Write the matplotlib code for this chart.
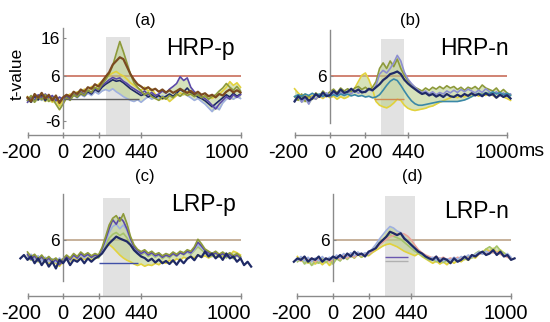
import numpy as np
import matplotlib
matplotlib.use("Agg")
import matplotlib.pyplot as plt
from matplotlib.transforms import ScaledTranslation

plt.rcParams['font.family'] = ['Liberation Sans', 'DejaVu Sans']

# ---------------- data ----------------
# sampling grids (ms)
T = list(range(-200, 1001, 20))          # 61 samples
T_B = list(range(-200, 1021, 20))        # 62 samples
T_C_NAVY = list(range(-240, 1061, 20))   # 66 samples
T_D_NAVY = list(range(-220, 1021, 20))   # 63 samples

X_TICKS = [-200, 0, 200, 440, 1000]
X_TICK_LABELS = ["-200", "0", "200", "440", "1000"]
THRESHOLD = 6

# (a) HRP-p
A_BROWN = [0.3, -0.8, 1.2, 0.2, 1.5, 0.0, 1.0, -0.5, 0.8, -1.2,
           0.3, 1.0, 0.5, 1.8, 1.2, 2.4, 1.8, 3.0, 2.6, 3.8,
           3.2, 4.5, 5.8, 7.0, 9.0, 10.0, 11.0, 10.5, 8.5, 6.5,
           5.0, 3.8, 3.2, 2.5, 3.0, 2.2, 2.6, 1.8, 2.4, 1.6,
           2.2, 1.5, 2.0, 2.6, 2.0, 1.5, 2.0, 1.2, 1.8, 1.0,
           1.4, 0.6, 1.0, 0.3, 1.2, 0.8, 1.8, 2.4, 1.6, 2.2,
           1.6]
A_OLIVE = [-0.5, 0.8, -1.0, 0.5, -0.3, 1.0, -0.8, 0.2, -1.5, -3.0,
           -1.5, 0.2, -0.5, 1.0, 0.4, 1.5, 0.8, 2.2, 1.6, 3.0,
           2.4, 3.8, 5.0, 6.5, 8.8, 12.0, 15.2, 12.5, 9.5, 6.5,
           4.2, 3.0, 2.0, 1.0, 1.6, 0.5, 0.0, -0.5, 0.5, -0.2,
           0.8, 0.2, 1.2, 0.6, 1.5, 0.8, 1.2, 0.5, 1.0, 0.2,
           0.8, -0.2, 0.5, 1.0, 2.0, 2.8, 4.0, 3.0, 2.2, 3.2,
           2.0]
A_PURPLE = [-1.0, 0.5, -0.5, 1.0, 0.0, 1.2, 0.2, 0.8, -0.6, 0.4,
            -0.2, 0.8, 0.0, 1.2, 0.6, 1.8, 1.0, 2.2, 1.5, 2.8,
            2.2, 3.5, 4.2, 5.0, 5.6, 5.2, 5.5, 4.6, 4.0, 3.2,
            2.6, 2.0, 1.4, 2.0, 1.0, 1.6, 0.8, 1.2, 2.0, 1.4,
            2.5, 3.2, 4.0, 5.8, 4.8, 5.5, 3.0, 1.8, 1.0, 0.5,
            0.0, -0.8, -1.8, -2.8, -1.5, -0.5, 0.5, -0.2, 1.0, 0.3,
            1.0]
A_NAVY = [0.0, -1.0, 0.6, -0.4, 1.0, -0.6, 0.6, -0.2, 0.4, -0.8,
          0.0, 0.6, -0.2, 1.0, 0.4, 1.4, 0.8, 1.8, 1.2, 2.4,
          1.8, 3.0, 3.8, 4.4, 5.0, 4.6, 4.8, 4.2, 3.4, 2.6,
          2.0, 1.4, 0.8, 1.2, 0.4, 1.0, 0.2, 0.8, 0.0, 0.6,
          1.2, 0.6, 1.4, 2.4, 1.8, 2.8, 1.6, 1.0, 0.4, 0.0,
          -0.6, -1.4, -2.2, -1.4, -0.6, 0.2, 1.0, 0.4, 1.4, 0.6,
          1.2]
A_YELLOW = [0.5, -0.5, 1.0, -0.3, 0.8, -0.8, 0.3, -1.0, -0.2, -2.0,
            -0.5, 0.5, 1.2, 0.6, 1.8, 1.0, 2.5, 1.8, 3.2, 2.5,
            3.8, 4.6, 5.5, 6.2, 6.8, 7.2, 6.5, 6.0, 5.2, 4.2,
            3.5, 2.8, 2.2, 3.0, 2.0, 2.5, 1.2, 0.5, -0.2, 0.4,
            -0.8, 0.0, 0.8, 1.5, 1.0, 1.8, 1.2, 0.6, 1.4, 0.8,
            0.2, 0.8, 0.0, 0.6, 1.2, 2.0, 3.0, 4.5, 3.5, 4.2,
            3.0]
A_LBLUE = [-0.5, 0.6, -0.8, 0.3, -0.5, 0.5, -0.3, 0.4, -0.6, 0.2,
           -0.4, 0.4, -0.2, 0.8, 0.2, 1.0, 0.5, 1.4, 0.8, 1.8,
           1.2, 2.0, 2.4, 2.0, 2.6, 1.8, 1.2, 0.5, 0.0, -0.5,
           -0.8, -0.3, -1.0, -0.2, 0.5, -0.2, 0.6, 0.0, 0.8, 0.2,
           1.0, 0.4, 1.2, 0.6, 1.4, 0.8, 0.2, -0.5, 0.0, -0.8,
           -1.5, -2.5, -3.5, -2.0, -3.0, -1.2, -0.2, 0.6, -0.2, 0.5,
           0.0]

# (b) HRP-n
B_NAVY = [-0.8, 0.6, -0.2, 0.5, -0.6, 0.0, 1.2, 0.4, 1.6, 0.6,
          0.9, 2.0, 1.2, 2.4, 1.5, 1.8, 2.6, 1.8, 2.4, 1.6,
          1.8, 2.6, 2.2, 3.0, 3.8, 4.9, 5.6, 6.5, 6.8, 7.2,
          6.5, 5.0, 4.0, 3.2, 2.5, 1.8, 1.2, 1.5, 0.8, 1.2,
          0.5, 1.0, 0.4, 1.2, 0.6, 0.4, 1.0, 0.5, 1.2, 0.7,
          1.4, 0.8, 1.2, 0.6, 1.4, 0.8, 1.2, 0.2, 1.0, 0.4,
          0.9, 0.0]
B_OLIVE = [0.5, -0.5, 1.2, -0.8, 0.8, -0.2, 1.5, 0.6, 2.0, 1.0,
           1.8, 2.5, 1.5, 2.8, 2.0, 2.6, 1.8, 2.8, 3.2, 2.4,
           3.0, 2.2, 3.0, 4.5, 8.0, 9.5, 8.0, 10.0, 8.5, 10.5,
           8.0, 6.2, 4.8, 3.8, 3.0, 2.5, 2.0, 2.8, 2.2, 3.0,
           2.5, 3.2, 2.6, 3.4, 2.8, 3.2, 2.4, 3.0, 2.2, 3.0,
           2.6, 3.2, 2.4, 3.6, 2.8, 2.4, 2.0, 2.8, 1.6, 2.4,
           1.5, 1.0]
B_LAV = [-0.5, 0.8, -1.0, 0.2, -1.5, 0.5, -0.2, 1.0, 0.4, 1.5,
         0.6, 1.4, 0.8, 1.6, 1.0, 2.0, 1.2, 2.2, 1.4, 2.0,
         1.6, 2.4, 2.0, 3.5, 6.5, 7.5, 6.8, 8.0, 9.5, 11.5,
         10.0, 7.0, 5.2, 4.0, 3.0, 2.2, 1.5, 2.0, 1.2, 1.8,
         1.0, 1.6, 1.2, 2.0, 1.5, 2.2, 1.6, 2.4, 1.8, 2.5,
         2.0, 1.5, 2.2, 1.6, 2.6, 1.8, 1.0, 1.8, 0.8, 1.5,
         0.6, 1.2]
B_YELLOW = [2.6, 1.5, 0.5, 1.2, 0.0, 0.8, -0.2, 0.6, 0.0, 0.8,
            0.2, 0.6, -0.2, 0.5, 0.0, 0.4, 1.5, 2.8, 4.5, 6.2,
            6.8, 5.0, 2.5, -0.8, -1.8, -2.2, -2.5, -2.0, -1.2, -0.2,
            -0.5, -1.8, -2.6, -3.0, -3.2, -3.0, -2.8, -2.6, -2.2, -2.0,
            -1.5, -1.0, -0.6, -0.2, 0.2, 0.6, 0.2, 0.8, 0.4, 1.0,
            0.5, 1.2, 0.6, 1.4, 0.8, 1.6, 0.8, 0.2, 1.0, 0.4,
            0.0, -0.5]
B_TEAL = [0.5, 1.0, 0.6, 1.2, 0.8, 1.4, 0.8, 1.2, 0.6, 1.0,
          0.5, 1.0, 0.6, 1.2, 0.8, 1.2, 0.7, 1.0, 0.6, 0.8,
          0.4, 0.6, 0.2, 0.4, 1.0, 2.2, 3.5, 4.6, 5.2, 4.8,
          3.5, 2.0, 0.6, -0.6, -1.4, -1.8, -1.8, -1.6, -1.4, -1.2,
          -1.0, -0.8, -0.8, -0.8, -0.8, -0.8, -0.8, -0.6, -0.4, 0.0,
          0.5, 1.0, 1.4, 1.0, 1.6, 1.2, 1.8, 1.2, 1.6, 1.0,
          1.4, 0.8]

# (c) LRP-p
C_NAVY = [1.1, 2.0, 0.7, 1.6, -0.2, 1.1, -0.7, 0.7, -1.1, 0.2, -1.6, 0.7,
          -0.2, 1.1, -0.7, 0.7, 0.2, 1.1, -0.2, 1.1, 0.2, 1.1,
          1.6, 2.4, 3.8, 5.1, 6.0, 6.9, 6.4, 6.0, 5.6, 4.7,
          3.3, 2.4, 1.6, 1.2, 0.4, 1.0, 0.0, 0.8, -0.2, 0.4,
          -0.4, 0.6, -0.6, 0.8, -0.2, 1.0, 1.6, 0.6, 2.0, 1.4,
          2.9, 1.6, 2.4, 1.1, 2.0, 0.7, 2.4, 1.1, 1.6, 0.2,
          1.1, -0.7, 0.2, -1.1]
C_OLIVE = [2.8, 1.5, 2.2, 1.0, 2.0, 0.8, 1.6, 0.6, 1.2, 0.2,
           1.0, 2.0, 1.2, 2.4, 1.6, 2.8, 2.0, 2.6, 1.8, 2.4,
           2.0, 4.0, 6.9, 10.0, 11.8, 12.5, 11.0, 13.0, 10.4, 7.0,
           4.7, 3.5, 2.9, 3.4, 2.5, 3.0, 2.2, 2.6, 1.8, 2.4,
           2.0, 2.8, 2.2, 3.0, 2.6, 3.4, 3.0, 4.2, 6.2, 5.0,
           3.6, 3.0, 2.4, 3.0, 2.2, 2.8, 2.0, 2.6, 1.8, 2.4,
           1.6]
C_PURPLE = [2.2, 0.8, 1.8, 0.4, 1.6, 0.2, 1.2, 0.0, 0.8, -0.6,
            0.6, 1.6, 0.8, 2.0, 1.2, 2.4, 1.6, 2.2, 1.4, 2.0,
            1.8, 3.6, 6.2, 9.0, 11.4, 10.2, 12.0, 11.0, 9.0, 6.4,
            4.2, 3.2, 2.4, 3.0, 2.0, 2.6, 1.8, 2.2, 1.4, 2.0,
            1.6, 2.4, 1.8, 2.6, 2.2, 3.0, 2.6, 3.8, 5.4, 4.4,
            3.2, 2.6, 2.0, 2.6, 1.8, 2.4, 1.6, 2.2, 1.4, 2.0,
            1.2]
C_LBLUE = [1.2, 2.2, 0.8, 1.8, 0.4, 1.4, 0.2, 1.0, 0.0, 1.2,
           0.4, 1.4, 0.6, 1.8, 1.0, 2.0, 1.2, 2.2, 1.4, 2.0,
           1.6, 3.2, 5.5, 8.0, 9.6, 10.2, 9.0, 10.0, 8.6, 6.0,
           4.0, 3.0, 2.4, 2.8, 2.0, 2.6, 1.6, 2.2, 1.4, 2.0,
           1.6, 2.4, 1.8, 2.6, 2.2, 2.8, 2.4, 3.4, 4.8, 4.0,
           3.0, 2.4, 2.0, 2.6, 1.8, 2.4, 1.6, 2.2, 1.4, 2.0,
           1.2]
C_GREEN = [1.8, 0.6, 1.6, 0.2, 1.2, 0.0, 1.0, -0.2, 0.6, -0.4,
           0.6, 1.6, 0.8, 2.0, 1.2, 2.2, 1.4, 2.0, 1.2, 1.8,
           1.2, 2.6, 4.5, 6.5, 7.5, 8.0, 7.2, 7.8, 6.6, 4.8,
           3.4, 2.6, 2.0, 2.6, 1.6, 2.2, 1.4, 2.0, 1.0, 1.8,
           1.2, 2.2, 1.6, 2.6, 2.0, 2.8, 2.2, 3.2, 4.2, 3.4,
           2.6, 2.0, 1.6, 2.4, 1.4, 2.2, 1.2, 2.0, 1.0, 1.8,
           1.0]
C_YELLOW = [0.8, 2.0, 1.0, 0.2, 1.2, 0.4, -0.4, 0.6, -0.2, -1.0,
            0.2, 1.0, 0.4, 1.2, 0.6, 1.4, 0.8, 1.2, 0.6, 1.0,
            1.6, 2.8, 4.2, 4.8, 4.0, 3.0, 2.0, 1.2, 0.6, 0.2,
            -0.4, -0.8, -0.4, -1.0, -0.6, -0.8, -0.2, -0.6, 0.2, -0.2,
            0.6, 0.2, 1.0, 0.6, 1.4, 1.0, 1.6, 1.2, 2.0, 1.4,
            1.8, 1.2, 1.8, 1.4, 2.2, 1.6, 2.4, 1.8, 3.0, 2.6,
            2.0]

# (d) LRP-n
D_NAVY = [0.2, 1.1, 0.7, 1.6, 0.2, 1.1, 0.7, 1.6, 0.2, 1.1, 0.7,
          1.6, 1.1, 2.0, 1.1, 2.4, 1.6, 2.9, 2.0, 2.4, 1.6,
          2.9, 3.3, 3.8, 5.1, 6.0, 6.9, 8.2, 7.8, 7.3, 7.8,
          6.4, 5.6, 4.7, 3.8, 2.9, 2.4, 1.6, 1.1, 0.7, 1.6,
          0.2, 1.1, 0.7, -0.2, 1.1, 0.2, 0.7, 1.6, 0.7, 2.0,
          1.6, 2.4, 2.9, 2.0, 2.4, 3.3, 2.0, 2.9, 1.6, 2.0,
          0.7, 1.1]
D_LBLUE = [0.6, 1.6, 0.4, 1.4, 0.2, 1.2, 0.4, 1.6, 0.6, 1.4,
           0.8, 2.0, 1.2, 2.4, 1.6, 2.6, 1.8, 2.8, 2.0, 2.6,
           2.4, 3.6, 4.8, 6.2, 7.4, 8.6, 9.6, 9.2, 8.4, 8.0,
           6.8, 5.6, 4.4, 3.6, 2.8, 2.2, 1.6, 1.0, 1.4, 0.6,
           1.2, 0.4, 1.0, 0.6, 1.4, 0.8, 1.6, 1.2, 2.0, 1.4,
           2.2, 2.8, 2.2, 3.0, 2.4, 3.2, 2.2, 2.8, 1.8, 2.4,
           1.4]
D_YELLOW = [1.6, 0.4, 1.2, -0.2, 0.8, -0.4, 0.6, -0.6, 0.4, -0.8,
            0.6, 1.4, 0.6, 1.8, 1.0, 2.0, 1.2, 2.2, 1.4, 2.0,
            1.8, 2.6, 3.2, 3.8, 4.4, 4.8, 5.0, 4.6, 4.2, 3.6,
            3.0, 2.6, 2.2, 1.8, 2.4, 1.6, 1.0, 0.4, -0.2, 0.4,
            -0.4, 0.2, -0.6, 0.4, -0.2, 0.6, 0.2, 1.0, 0.6, 1.6,
            1.2, 2.2, 2.8, 3.6, 3.0, 3.8, 2.6, 3.4, 2.4, 1.6,
            0.8]
D_GREEN = [0.2, 1.2, -0.4, 0.8, -0.8, 0.4, -0.2, 1.0, 0.0, 0.8,
           -0.4, 1.0, 0.4, 1.6, 0.8, 1.8, 1.2, 2.2, 1.4, 2.2,
           2.0, 3.0, 4.0, 5.2, 6.0, 6.8, 7.4, 7.0, 6.6, 6.2,
           5.4, 4.6, 3.8, 3.0, 2.4, 1.8, 1.2, 0.6, 1.0, 0.2,
           0.8, 0.0, 0.6, 0.2, 1.0, 0.4, 1.2, 0.8, 1.8, 1.2,
           2.4, 3.0, 2.4, 3.6, 4.2, 3.4, 4.4, 3.2, 2.6, 2.0,
           1.2]
D_PINK = [1.0, 0.4, 1.4, 0.6, 1.2, 0.2, 1.0, 0.4, 1.2, 0.2,
          1.0, 1.6, 0.8, 1.8, 1.2, 2.2, 1.4, 2.4, 1.8, 2.4,
          2.2, 3.0, 3.8, 4.6, 5.4, 6.2, 6.8, 7.2, 7.6, 7.8,
          7.6, 7.0, 6.0, 4.6, 3.4, 2.6, 2.0, 1.6, 1.2, 1.6,
          1.0, 1.4, 0.8, 1.2, 0.8, 1.4, 1.0, 1.6, 1.2, 2.0,
          1.6, 2.2, 2.6, 2.2, 3.0, 2.6, 2.8, 2.2, 1.8, 1.4,
          1.0]

# analysis windows (ms) and short reference segments (value, start, end)
WINDOWS = {"a": (240, 380), "b": (288, 418), "c": (228, 378), "d": (292, 460)}
SEGMENTS = {"a": [(0.0, 0, 430, "#606060")],
            "b": [(0.0, 250, 420, "#d08a50")],
            "c": [(0.0, 200, 420, "#4050a8")],
            "d": [(1.5, 290, 420, "#6a58b0"), (0.5, 290, 420, "#b0b0b0")]}

# ---------------- styling ----------------
C = {"brown": "#7a4a20", "olive": "#8d9a3a", "purple": "#5a48a8",
     "yellow": "#e2d23c", "lblue": "#9fb0e0", "navy": "#1f2a66",
     "teal": "#3a88a8", "lav": "#8d8fd0", "green": "#a6c46a", "pink": "#eaa39a"}

W, H = 550, 322
fig = plt.figure(figsize=(W / 100, H / 100), dpi=100)


def fx(p):
    return p / W


def fy(p):
    return 1 - p / H


PANELS = [
    dict(key="a", x0=63, k=0.1775, y0=98.5, spine=135, top=20, lb=(18.8, -7.9),
         yt=[16, 6, -6], gray_top=16.3, thr="#c4604c", off1000=-14,
         series=[(T, A_LBLUE, "lblue"), (T, A_YELLOW, "yellow"),
                 (T, A_NAVY, "navy"), (T, A_PURPLE, "purple"), (T, A_OLIVE, "olive")],
         main=(T, A_BROWN, "brown"),
         title="(a)", tpos=(145, 20), name="HRP-p", npos=(200, 55)),
    dict(key="b", x0=330, k=0.177, y0=98.5, spine=135, top=20, lb=(18.3, -6.5),
         yt=[6], gray_top=16.0, thr="#c4604c", off1000=-10,
         series=[(T_B, B_YELLOW, "yellow"), (T_B, B_OLIVE, "olive"),
                 (T_B, B_LAV, "lav"), (T_B, B_TEAL, "teal")],
         main=(T_B, B_NAVY, "navy"),
         title="(b)", tpos=(410, 20), name="HRP-n", npos=(474, 55)),
    dict(key="c", x0=63, k=0.1775, y0=262.5, spine=296, top=185, lb=(18.3, -4.9),
         yt=[6], gray_top=17.3, thr="#b89c80", off1000=-12,
         series=[(T, C_YELLOW, "yellow"), (T, C_GREEN, "green"),
                 (T, C_LBLUE, "lblue"), (T, C_PURPLE, "purple"), (T, C_OLIVE, "olive")],
         main=(T_C_NAVY, C_NAVY, "navy"),
         title="(c)", tpos=(145, 176), name="LRP-p", npos=(204, 211)),
    dict(key="d", x0=333, k=0.178, y0=262.5, spine=296, top=185, lb=(18.3, -4.9),
         yt=[6], gray_top=17.7, thr="#b89c80", off1000=-5,
         series=[(T, D_YELLOW, "yellow"), (T, D_GREEN, "green"),
                 (T, D_PINK, "pink"), (T, D_LBLUE, "lblue")],
         main=(T_D_NAVY, D_NAVY, "navy"),
         title="(d)", tpos=(412, 176), name="LRP-n", npos=(477, 218)),
]

S = 3.75  # px per t-unit
XL = (-260, 1080)

for p in PANELS:
    left = p["x0"] + XL[0] * p["k"]
    right = p["x0"] + XL[1] * p["k"]
    ax = fig.add_axes([fx(left), fy(p["spine"]), (right - left) / W,
                       (p["spine"] - p["top"]) / H])
    ax.set_xlim(*XL)
    ylo = (p["y0"] - p["spine"]) / S
    yhi = (p["y0"] - p["top"]) / S
    ax.set_ylim(ylo, yhi)
    ax.patch.set_alpha(0)

    for s in ("top", "right"):
        ax.spines[s].set_visible(False)
    ax.spines["bottom"].set_bounds(-200, 1000)
    ax.spines["left"].set_position(("data", 0))
    ax.spines["left"].set_bounds(p["lb"][1], p["lb"][0])
    for s in ("bottom", "left"):
        ax.spines[s].set_color("#8a8a8a")
        ax.spines[s].set_linewidth(1.0)

    ax.set_xticks(X_TICKS)
    ax.set_xticklabels(X_TICK_LABELS, fontsize=14.5)
    ax.tick_params(axis="x", direction="inout", length=5, width=1,
                   color="#8a8a8a", pad=3)
    ax.set_yticks(p["yt"])
    ax.set_yticklabels([str(v) for v in p["yt"]], fontsize=12.5)
    ax.tick_params(axis="y", direction="in", length=2, width=0.8,
                   color="#8a8a8a", pad=2)
    labels = ax.get_xticklabels()
    offs = {0: -6, len(labels) - 1: p["off1000"]}
    for i, lab in enumerate(labels):
        if i in offs:
            lab.set_transform(lab.get_transform() +
                              ScaledTranslation(offs[i] / 100, 0, fig.dpi_scale_trans))

    w0, w1 = WINDOWS[p["key"]]
    ax.fill_between([w0, w1], ylo, p["gray_top"], color="#e2e2e2", lw=0, zorder=0)
    ax.hlines(THRESHOLD, 0, 1000, color=p["thr"], lw=1.1, zorder=1)

    # shaded band spanning the envelope of the coloured series
    arr = np.array([s[1] for s in p["series"]])
    tt = np.array(p["series"][0][0])
    ax.fill_between(tt, arr.min(axis=0), arr.max(axis=0), color="#bcd08e",
                    alpha=0.6, lw=0, zorder=1.5)

    for tser, vals, col in p["series"]:
        ax.plot(tser, vals, color=C[col], lw=1.2, zorder=2)
    for val, t0, t1, col in SEGMENTS[p["key"]]:
        ax.hlines(val, t0, t1, color=col, lw=1.0, zorder=2.5)
    tm, vm, cm = p["main"]
    ax.plot(tm, vm, color=C[cm], lw=1.6, zorder=3)

    fig.text(fx(p["tpos"][0]), fy(p["tpos"][1]), p["title"], fontsize=12,
             ha="center", va="center")
    fig.text(fx(p["npos"][0]), fy(p["npos"][1]), p["name"], fontsize=16.5,
             ha="center", va="baseline")

fig.text(fx(17), fy(74), "t-value", fontsize=12.5, rotation=90,
         ha="center", va="center")
fig.text(fx(532), fy(152), "ms", fontsize=14, ha="center", va="center")

fig.savefig("out.png", dpi=100)
